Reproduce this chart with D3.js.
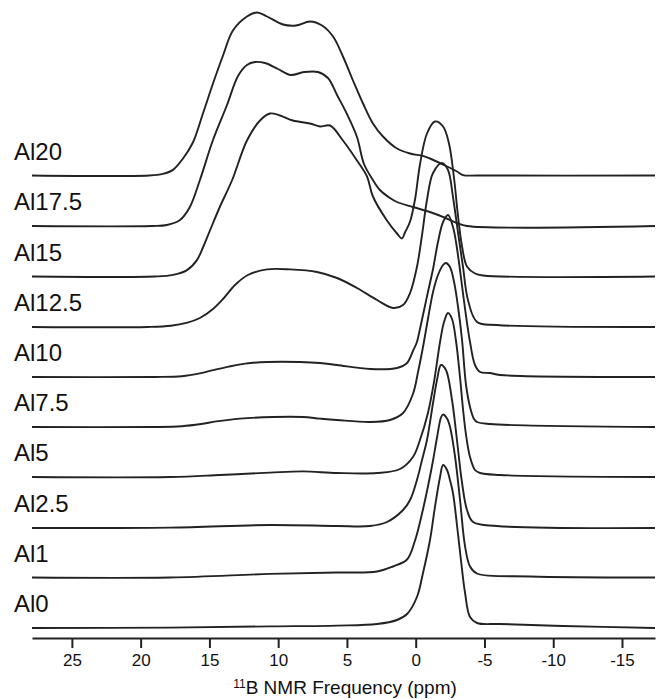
<!DOCTYPE html>
<html>
<head>
<meta charset="utf-8">
<script src="https://cdn.jsdelivr.net/npm/d3@7"></script>
<style>
  body { margin: 0; background: #fff; }
  svg { display: block; font-family: "Liberation Sans", Arial, sans-serif; }
  .spec { fill: none; stroke: #222; stroke-width: 1.9; stroke-linejoin: round; }
  .axis path, .axis line { stroke: #222; stroke-width: 2; }
  .axis text { font-size: 17px; fill: #111; }
</style>
</head>
<body>
<div id="chart"></div>
<script>
// sample names, bottom to top
const samples = ["Al0", "Al1", "Al2.5", "Al5", "Al7.5", "Al10", "Al12.5", "Al15", "Al17.5", "Al20"];
// vertical stacking offset of each trace (a.u.)
const offsets = [0, 25.25, 50, 75.5, 100.5, 125.5, 150.5, 175.75, 201, 226.25];
const ppmTicks = [25, 20, 15, 10, 5, 0, -5, -10, -15];

// spectra as [ppm, intensity a.u.]
const al0 = [[27.9,0],[17.87,0.2],[10.6,0.8],[5.72,1.2],[2.81,2],[1.36,4],[0.63,7],[-0.09,15.5],[-0.53,27.5],[-1.04,44],[-1.4,60.5],[-1.77,75.5],[-1.99,81.5],[-2.28,79],[-2.49,74],[-2.71,67.5],[-3.0,51.5],[-3.29,34],[-3.59,17.5],[-3.95,5.5],[-4.46,2.5],[-6.13,2],[-10.71,1],[-17.4,0]];
const al1 = [[27.9,0],[17.87,0],[10.6,1.8],[5.72,2.5],[2.81,3],[1.65,5.5],[0.63,9],[0.05,18.5],[-0.46,32],[-0.89,45.5],[-1.26,58.5],[-1.55,70],[-1.84,80],[-1.99,81.5],[-2.28,79.5],[-2.49,75.5],[-2.86,60.5],[-3.22,39],[-3.59,15.5],[-3.95,5.5],[-4.46,2],[-8.31,0.5],[-17.4,0]];
const al2_5 = [[27.9,0],[17.87,0.2],[10.6,1.5],[5.72,1],[3.32,1],[2.09,3],[0.92,9],[0.41,14],[-0.09,24],[-0.46,34],[-0.82,44],[-1.26,62.5],[-1.55,74],[-1.84,81.5],[-2.2,79],[-2.64,64],[-3.0,44],[-3.37,22.5],[-3.73,9],[-4.17,3],[-5.91,1],[-17.4,0]];
const al5 = [[27.9,0],[17.87,0],[14.23,1],[10.6,2.2],[8.2,2.8],[5.72,2],[2.81,2],[1.14,4],[0.2,10],[-0.31,18.5],[-0.89,32],[-1.33,47.5],[-1.77,67.5],[-2.06,77.5],[-2.35,82],[-2.64,79],[-2.93,68],[-3.22,50],[-3.44,34],[-3.66,21],[-3.95,10],[-4.31,3.5],[-4.68,2],[-6.13,1],[-17.4,0]];
const al7_5 = [[27.9,0],[19.0,0],[17.0,0.4],[15.6,1.5],[14.5,2.8],[12.78,4.2],[10.38,5],[8.2,5],[6.96,4.2],[5.72,3.5],[3.32,2.5],[1.87,3.5],[0.92,7],[0.2,16.5],[-0.17,27.5],[-0.53,40],[-0.89,54],[-1.26,67.5],[-1.62,76],[-1.99,81],[-2.2,82],[-2.49,80],[-2.79,72.5],[-3.08,60],[-3.37,43.5],[-3.66,21],[-3.95,10],[-4.24,4],[-4.46,2.5],[-5.4,1.5],[-17.4,0]];
const al10 = [[27.9,0],[19.0,0],[17.0,0.4],[15.7,1.8],[14.74,3.4],[13.6,5.2],[12.4,6.7],[10.81,7.5],[8.42,7.5],[6.96,7],[5.72,6],[3.32,4],[1.36,4.5],[0.63,7],[0.2,13],[-0.09,17.5],[-0.31,24],[-0.53,31],[-0.89,42.5],[-1.26,54],[-1.62,67.5],[-1.99,77.5],[-2.35,81],[-2.71,75],[-2.93,67.5],[-3.22,53.5],[-3.59,34],[-3.95,17.5],[-4.31,6],[-4.68,2.5],[-5.4,2],[-6.13,1],[-17.4,0]];
const al12_5 = [[27.9,0],[19.5,0],[17.8,0.6],[16.6,2.2],[15.69,4.5],[14.74,9],[14.01,14],[13.14,21],[12.2,26],[10.81,28.8],[9.14,28.8],[7.18,27.5],[5.72,24.5],[4.27,19.5],[2.81,13.5],[1.65,9.5],[0.92,11],[0.41,17],[-0.09,30],[-0.46,46],[-0.82,63.5],[-1.26,77],[-1.91,82],[-2.35,78.5],[-2.71,65],[-3.08,47],[-3.44,30],[-3.8,13.5],[-4.46,2.5],[-5.91,1],[-17.4,0]];
const al15 = [[27.9,0],[19.0,0],[17.65,0.8],[16.63,3.2],[15.91,8.2],[15.47,14.5],[14.96,23],[14.23,35],[13.36,48],[12.27,68],[11.32,78],[10.6,81.5],[9.87,80.5],[8.93,78],[7.69,76.5],[6.96,75],[6.23,75.5],[5.29,68],[4.27,58],[3.54,50],[3.11,40],[2.09,28],[1.36,21.5],[1.0,19],[0.78,22],[0.41,27.5],[0.05,38.5],[-0.31,56],[-0.82,71.5],[-1.4,77.5],[-1.99,75],[-2.42,66.5],[-2.79,49],[-3.08,30],[-3.37,15],[-3.73,5],[-4.31,1.5],[-4.9,0.5],[-17.4,0]];
const al17_5 = [[27.9,0],[19.2,0],[18.09,0.5],[17.14,3],[16.42,9.5],[15.69,23],[14.74,43],[13.72,60.5],[12.92,75],[12.27,80.5],[11.69,82],[10.96,81.5],[10.01,78.5],[9.07,75.5],[8.12,77],[7.11,77],[6.38,74],[5.72,65.5],[5.0,56],[4.27,44.5],[3.76,31],[3.11,23],[2.6,18],[1.87,14],[1.36,12],[0.2,9.5],[-1.04,7],[-1.99,4.5],[-3.0,1.5],[-3.73,0],[-17.4,0]];
const al20 = [[27.9,0],[19.4,0],[18.38,0.8],[17.65,2.8],[16.92,8.5],[16.2,16.5],[15.47,31],[14.74,46],[14.01,60],[13.29,72.5],[12.27,79.5],[11.54,81.5],[10.81,79.5],[9.65,75.5],[8.71,75],[7.69,77],[6.81,75],[6.01,69.5],[5.29,59.5],[4.56,47.5],[3.83,36],[3.11,26],[2.38,19.5],[1.36,13.5],[0.41,11],[-0.53,9.8],[-1.04,8.5],[-2.28,4.5],[-3.0,2],[-3.44,0.2],[-4.5,0],[-17.4,0]];

const spectra = [al0, al1, al2_5, al5, al7_5, al10, al12_5, al15, al17_5, al20];

const width = 658, height = 699;

const svg = d3.select("#chart").append("svg")
  .attr("width", width)
  .attr("height", height);

//ppm axis runs right to left
const x = d3.scaleLinear().domain([27.9, -17.4]).range([32, 655]);
const y = d3.scaleLinear().domain([0, 300]).range([628, 28]);

const line = d3.line()
  .x(d => x(d[0]))
  .y(d => y(d[1]))
  .curve(d3.curveCatmullRom.alpha(0.5));

spectra.forEach((s, i) => {
  svg.append("path")
    .attr("class", "spec")
    .attr("d", line(s.map(p => [p[0], p[1] + offsets[i]])));

  svg.append("text")
    .attr("x", 14)
    .attr("y", y(offsets[i]) - 16)
    .attr("font-size", 24)
    .attr("fill", "#111")
    .text(samples[i]);
});

//bottom axis, plain hyphen for negatives
const axis = svg.append("g")
  .attr("class", "axis")
  .attr("transform", "translate(0,638)")
  .call(d3.axisBottom(x).tickValues(ppmTicks).tickSize(10).tickSizeOuter(0).tickPadding(6)
    .tickFormat(d => String(d)));

const title = svg.append("text")
  .attr("x", 345)
  .attr("y", 694)
  .attr("text-anchor", "middle")
  .attr("font-size", 19)
  .attr("fill", "#111");
title.append("tspan").attr("font-size", 12).attr("dy", -6).text("11");
title.append("tspan").attr("dy", 6).text("B NMR Frequency (ppm)");
</script>
</body>
</html>
